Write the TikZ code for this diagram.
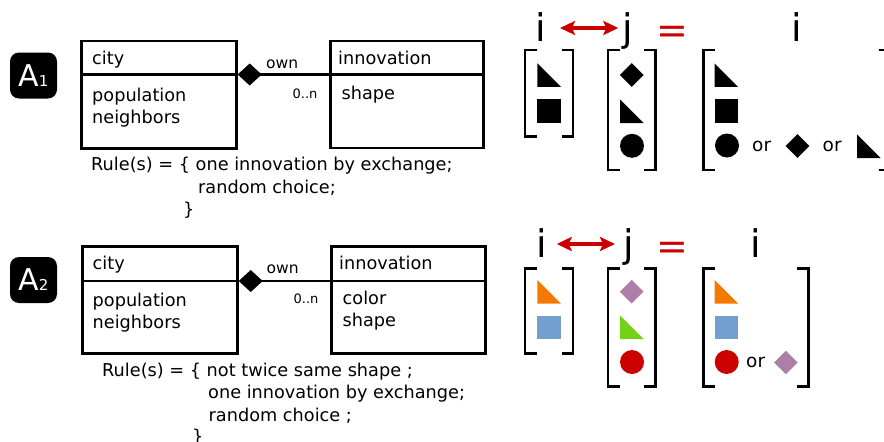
\documentclass[tikz,border=0pt]{standalone}
\usepackage{fontspec}
\setmainfont{DejaVu Sans}
\usetikzlibrary{arrows.meta}
\definecolor{tred}{HTML}{CC0000}
\definecolor{torange}{HTML}{F57900}
\definecolor{tblue}{HTML}{729FCF}
\definecolor{tgreen}{HTML}{73D216}
\definecolor{tplum}{HTML}{AD7FA8}
\newcommand\shTri[3]{\fill[#3] (#1,#2) -- ++(0,23.5) -- ++(23.5,0) -- cycle;}
\newcommand\shSq[3]{\fill[#3] (#1,#2) rectangle ++(23.5,23.5);}
\newcommand\shDia[3]{\fill[#3] (#1,#2) ++(-11.8,0) -- ++(11.8,-11.8) -- ++(11.8,11.8) -- ++(-11.8,11.8) -- cycle;}
\newcommand\shCirc[3]{\fill[#3] (#1,#2) circle[radius=12];}
\begin{document}
\begin{tikzpicture}[x=1pt,y=-1pt,
  umlbox/.style={draw, line width=2.7pt, inner sep=0pt, anchor=north west},
  txt/.style={anchor=base west, inner sep=0pt, font=\fontsize{17.7}{20}\selectfont},
  smalltxt/.style={anchor=base west, inner sep=0pt, font=\fontsize{15.5}{17}\selectfont},
  tinytxt/.style={anchor=base west, inner sep=0pt, font=\fontsize{13}{14}\selectfont},
  ortxt/.style={anchor=base west, inner sep=0pt, font=\fontsize{18.5}{20}\selectfont},
  bigtxt/.style={anchor=base, inner sep=0pt, font=\fontsize{38}{40}\selectfont},
  badge/.style={fill=black, rounded corners=9pt, minimum width=47pt, minimum height=46pt, inner sep=0pt, text=white},
  brk/.style={line width=2.7pt},
  comp/.style={line width=2.7pt, {Diamond[length=24pt,width=22pt]}-},
  xarr/.style={tred, line width=4.2pt, {Stealth[length=15pt,width=14pt,inset=3pt]}-{Stealth[length=15pt,width=14pt,inset=3pt]}},
]
\useasboundingbox (0,0) rectangle (884,442);

% ---------------- A1 ----------------
\node[badge] (b1) at (33.5,75.5) {{\fontsize{30}{30}\selectfont A}{\fontsize{15}{15}\selectfont 1}};
\node[umlbox, minimum width=155pt, minimum height=107.5pt] (city1) at (80,39.5) {};
\node[umlbox, minimum width=153pt, minimum height=107pt] (inn1) at (329,39.5) {};
\coordinate (d1) at (0,74.5);
\draw[brk] (city1.west |- d1) -- (city1.east |- d1);
\draw[brk] (inn1.west |- d1) -- (inn1.east |- d1);
\draw[comp] (city1.east |- d1) -- (inn1.west |- d1);
\node[txt] (c1t) at (92,64) {city};
\node[txt] (c1a) at (92,101) {population};
\node[txt] (c1b) at (92,123) {neighbors};
\node[txt] (i1t) at (338,64) {innovation};
\node[txt] (i1a) at (341.5,99) {shape};
\node[smalltxt] (own1) at (266,68.5) {own};
\node[tinytxt] (n1) at (292.5,98.3) {0..n};
\node[txt] (r1a) at (91,170) {Rule(s) = \{ one innovation by exchange;};
\node[txt] (r1b) at (198,193) {random choice;};
\node[txt] (r1c) at (183,215) {\}};

\node[bigtxt] (ti1) at (541,41) {i};
\node[bigtxt] (tj1) at (628,41) {j};
\node[bigtxt, text=tred] (eq1) at (672,43) {=};
\node[bigtxt] (tk1) at (797,41) {i};
\coordinate (a1s) at (560,28);
\coordinate (a1e) at (618.3,28);
\draw[xarr] (a1s) -- (a1e);

\draw[brk] (537,50) -- (525,50) -- (525,136.7) -- (537,136.7);
\draw[brk] (561.5,50) -- (573,50) -- (573,136.7) -- (561.5,136.7);
\draw[brk] (620,50) -- (608,50) -- (608,170) -- (620,170);
\draw[brk] (644,50) -- (655.5,50) -- (655.5,170) -- (644,170);
\draw[brk] (715,50) -- (703.5,50) -- (703.5,170) -- (715,170);
\draw[brk] (879,50) -- (891,50) -- (891,170) -- (879,170);

\shTri{537.3}{63.3}{black}
\shSq{537.3}{99}{black}
\shDia{631.7}{75}{black}
\shTri{620}{99.5}{black}
\shCirc{632}{145.8}{black}
\shTri{714.5}{63.3}{black}
\shSq{714.5}{99}{black}
\shCirc{727}{145.5}{black}
\node[ortxt] (or1) at (752,151) {or};
\shDia{797.5}{146}{black}
\node[ortxt] (or2) at (822.5,151) {or};
\shTri{857}{134.5}{black}

% ---------------- A2 ----------------
\node[badge] (b2) at (33.5,280) {{\fontsize{30}{30}\selectfont A}{\fontsize{15}{15}\selectfont 2}};
\node[umlbox, minimum width=155pt, minimum height=107pt] (city2) at (81,245) {};
\node[umlbox, minimum width=154pt, minimum height=107pt] (inn2) at (330,245) {};
\coordinate (d2) at (0,281);
\draw[brk] (city2.west |- d2) -- (city2.east |- d2);
\draw[brk] (inn2.west |- d2) -- (inn2.east |- d2);
\draw[comp] (city2.east |- d2) -- (inn2.west |- d2);
\node[txt] (c2t) at (92.5,269) {city};
\node[txt] (c2a) at (92.5,306) {population};
\node[txt] (c2b) at (92.5,328) {neighbors};
\node[txt] (i2t) at (339,269) {innovation};
\node[txt] (i2a) at (342.5,304) {color};
\node[txt] (i2b) at (342.5,326) {shape};
\node[smalltxt] (own2) at (266.5,273.5) {own};
\node[tinytxt] (n2) at (293.5,303.5) {0..n};
\node[txt] (r2a) at (102,376) {Rule(s) = \{ not twice same shape ;};
\node[txt] (r2b) at (208,398.5) {one innovation by exchange;};
\node[txt] (r2c) at (208.5,421) {random choice ;};
\node[txt] (r2d) at (192,442.5) {\}};

\node[bigtxt] (ti2) at (541.7,257) {i};
\node[bigtxt] (tj2) at (628.5,257) {j};
\node[bigtxt, text=tred] (eq2) at (672,259) {=};
\node[bigtxt] (tk2) at (755.7,257) {i};
\coordinate (a2s) at (556.7,244);
\coordinate (a2e) at (615,244);
\draw[xarr] (a2s) -- (a2e);

\draw[brk] (537,268.3) -- (525,268.3) -- (525,353.3) -- (537,353.3);
\draw[brk] (561.5,268.3) -- (573,268.3) -- (573,353.3) -- (561.5,353.3);
\draw[brk] (620,268.3) -- (608,268.3) -- (608,386.5) -- (620,386.5);
\draw[brk] (644,268.3) -- (655.5,268.3) -- (655.5,386.5) -- (644,386.5);
\draw[brk] (715,268.3) -- (703.5,268.3) -- (703.5,386.5) -- (715,386.5);
\draw[brk] (797,268.3) -- (808.3,268.3) -- (808.3,386.5) -- (797,386.5);

\shTri{537.3}{280}{torange}
\shSq{537.3}{315.5}{tblue}
\shDia{631.7}{291.7}{tplum}
\shTri{620}{315.5}{tgreen}
\shCirc{632}{362}{tred}
\shTri{714.5}{280}{torange}
\shSq{714.5}{315.5}{tblue}
\shCirc{726.7}{362}{tred}
\node[ortxt] (or3) at (746,367) {or};
\shDia{785.8}{362.5}{tplum}
\end{tikzpicture}
\end{document}
